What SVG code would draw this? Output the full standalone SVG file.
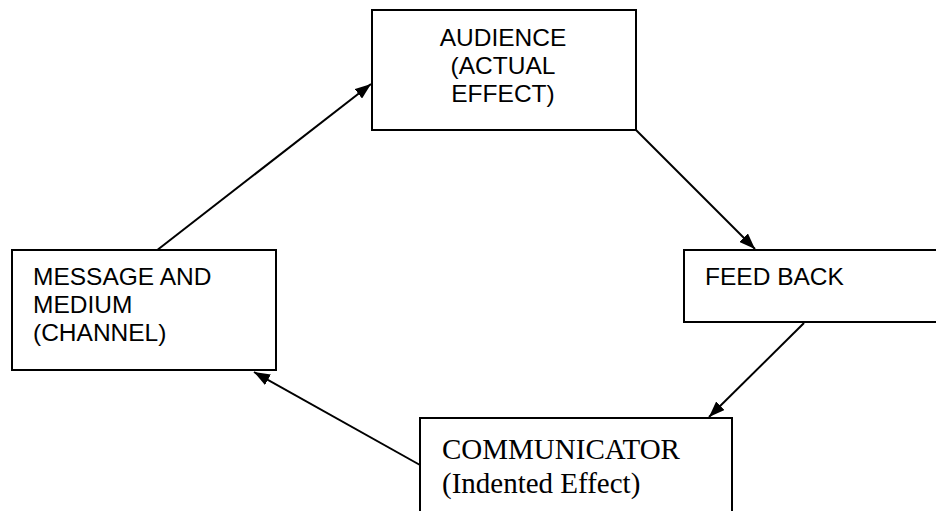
<svg xmlns="http://www.w3.org/2000/svg" width="936" height="511" viewBox="0 0 936 511">
  <defs>
    <marker id="arrow" markerWidth="16" markerHeight="12" refX="16" refY="6" orient="auto" markerUnits="userSpaceOnUse">
      <path d="M0,0 L16,6 L0,12 z" fill="#000"/>
    </marker>
  </defs>
  <style>
    .box { fill: #fff; stroke: #000; stroke-width: 2; }
    .sans { font-family: "Liberation Sans", Arial, sans-serif; font-size: 24.5px; fill: #000; }
    .serif { font-family: "Liberation Serif", "Times New Roman", serif; font-size: 29px; fill: #000; }
    .conn { stroke: #000; stroke-width: 2; fill: none; marker-end: url(#arrow); }
  </style>
  <rect width="936" height="511" fill="#fff"/>
  <g id="connectors">
    <line class="conn" x1="156" y1="251" x2="371" y2="84"/>
    <line class="conn" x1="636" y1="130" x2="755" y2="249"/>
    <line class="conn" x1="804" y1="323" x2="709" y2="417"/>
    <line class="conn" x1="420" y1="465" x2="254" y2="372"/>
  </g>
  <g id="audience">
    <rect class="box" x="372" y="10" width="264" height="120"/>
    <text class="sans" x="503" y="46" text-anchor="middle">AUDIENCE</text>
    <text class="sans" x="503" y="74.2" text-anchor="middle">(ACTUAL</text>
    <text class="sans" x="503" y="102.4" text-anchor="middle">EFFECT)</text>
  </g>
  <g id="message">
    <rect class="box" x="12" y="250" width="264" height="120"/>
    <text class="sans" x="33" y="285">MESSAGE AND</text>
    <text class="sans" x="33" y="313.2">MEDIUM</text>
    <text class="sans" x="33" y="341.4">(CHANNEL)</text>
  </g>
  <g id="feedback">
    <rect class="box" x="684" y="250" width="270" height="72"/>
    <text class="sans" x="705" y="285">FEED BACK</text>
  </g>
  <g id="communicator">
    <rect class="box" x="420" y="418" width="312" height="110"/>
    <text class="serif" x="442" y="459">COMMUNICATOR</text>
    <text class="serif" x="442" y="493">(Indented Effect)</text>
  </g>
</svg>
